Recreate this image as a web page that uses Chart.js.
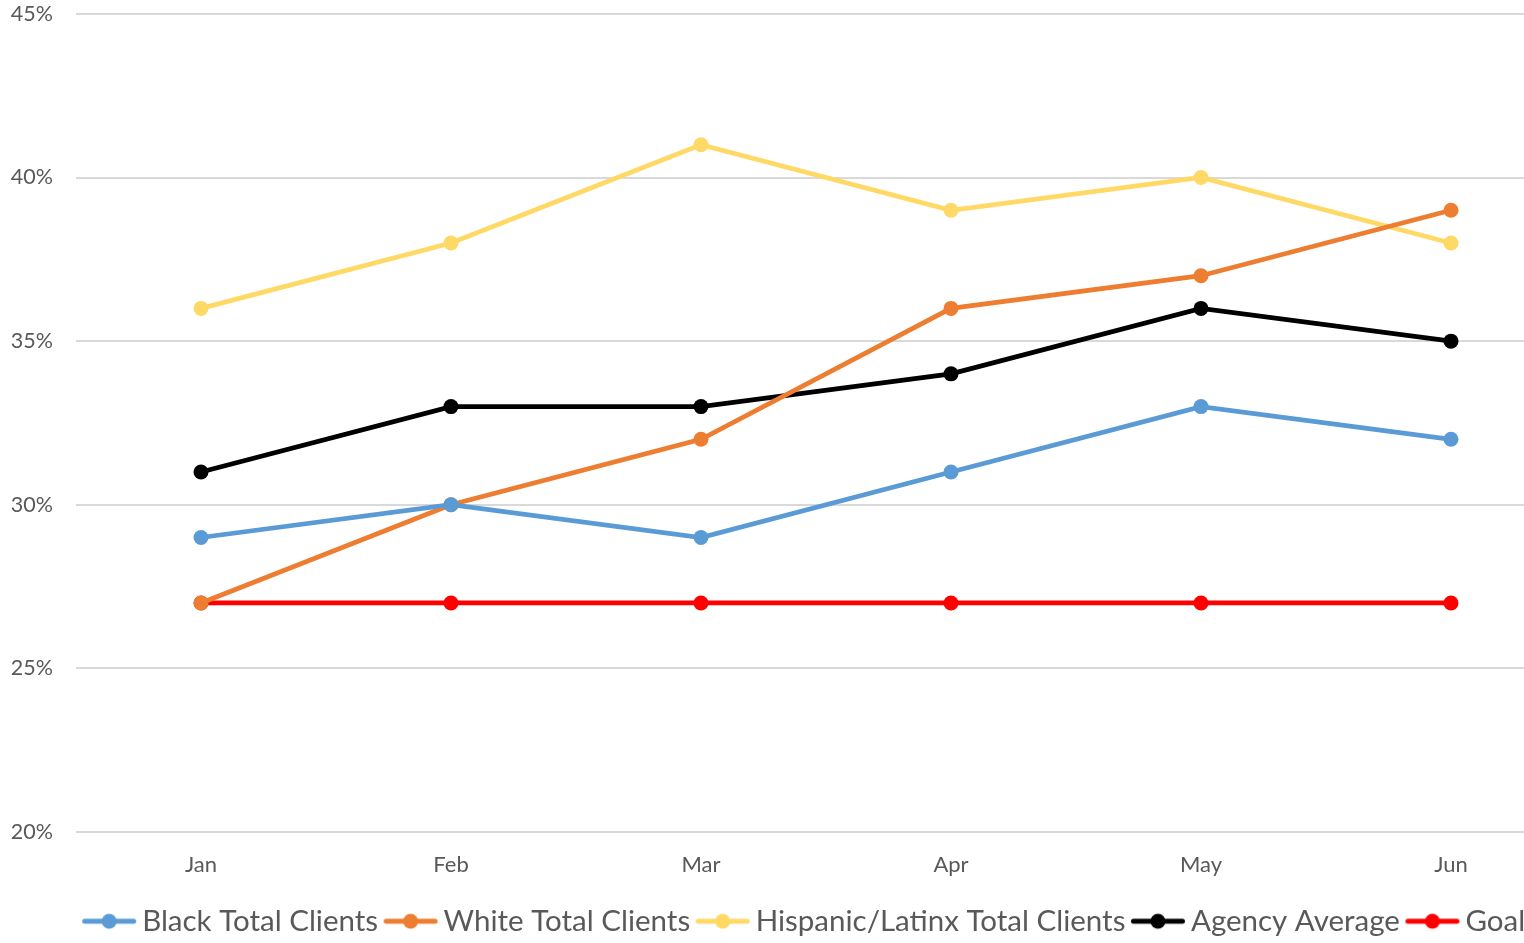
<!DOCTYPE html>
<html>
<head>
<meta charset="utf-8">
<script src="https://cdn.jsdelivr.net/npm/chart.js@4"></script>
<style>
html,body{margin:0;padding:0;background:#fff;overflow:hidden;width:1524px;height:943px;}
#wrap{position:absolute;left:0;top:-22px;width:1576px;height:968px;}
</style>
</head>
<body>
<div id="wrap"><canvas id="c" width="1576" height="968"></canvas></div>
<script>
const months = ["Jan","Feb","Mar","Apr","May","Jun"];
const blackTotal = [29,30,29,31,33,32];
const whiteTotal = [27,30,32,36,37,39];
const hispanicTotal = [36,38,41,39,40,38];
const agencyAverage = [31,33,33,34,36,35];
const goal = [27,27,27,27,27,27];
const yTicks = [20,25,30,35,40,45];

const FONT = "Lato, 'Open Sans', sans-serif";
const TEXT = "#595959";

function legendIcon(color){
  const c = document.createElement('canvas');
  c.width = 56; c.height = 18;
  const g = c.getContext('2d');
  g.strokeStyle = color; g.lineWidth = 5; g.lineCap = 'round';
  g.beginPath(); g.moveTo(3.5,9); g.lineTo(52.5,9); g.stroke();
  g.fillStyle = color; g.beginPath(); g.arc(28,9,7.5,0,Math.PI*2); g.fill();
  return c;
}

function ds(label, data, color){
  return {label, data, borderColor:color, backgroundColor:color,
    borderWidth:4.75, pointRadius:7.5, pointHoverRadius:7.5, pointBorderWidth:0,
    pointBackgroundColor:color, tension:0, fill:false};
}

const legendShift = {
  id:'legendShift',
  afterLayout(chart){
    const l = chart.legend; if(!l) return;
    const dx = 20;
    l.left += dx; l.right += dx;
    if (l.legendHitBoxes) l.legendHitBoxes.forEach(b=>{b.left += dx;});
  }
};

new Chart(document.getElementById('c'), {
  type:'line',
  data:{
    labels: months,
    datasets:[
      ds("Black Total Clients", blackTotal, "#5B9BD5"),
      ds("White Total Clients", whiteTotal, "#ED7D31"),
      ds("Hispanic/Latinx Total Clients", hispanicTotal, "#FFD966"),
      ds("Agency Average", agencyAverage, "#000000"),
      ds("Goal", goal, "#FF0000")
    ]
  },
  plugins:[legendShift],
  options:{
    responsive:false, animation:false,
    layout:{autoPadding:false, padding:{top:13,left:0,right:0,bottom:0}},
    plugins:{
      tooltip:{enabled:false},
      legend:{
        position:'bottom',
        labels:{
          usePointStyle:true, pointStyleWidth:36.5, padding:14.25,
          color:TEXT, font:{family:FONT,size:29.5},
          generateLabels(chart){
            return chart.data.datasets.map((d,i)=>({
              text:d.label, fillStyle:d.borderColor, strokeStyle:d.borderColor,
              pointStyle:legendIcon(d.borderColor), lineWidth:0, datasetIndex:i, hidden:false, fontColor:TEXT
            }));
          }
        }
      }
    },
    scales:{
      x:{
        offset:true,
        afterFit(s){ s.height = 60.25; },
        grid:{display:false, drawTicks:false},
        border:{display:false},
        ticks:{color:TEXT, font:{family:FONT,size:22}, padding:20}
      },
      y:{
        min:20, max:45,
        afterBuildTicks(s){ s.ticks = yTicks.map(v=>({value:v})); },
        afterFit(s){ s.width = 76; },
        grid:{color:"#D9D9D9", lineWidth:2, drawTicks:false},
        border:{display:false},
        ticks:{color:TEXT, font:{family:FONT,size:21.5}, padding:23, callback:v=>v+"%"}
      }
    }
  }
});
</script>
</body>
</html>
